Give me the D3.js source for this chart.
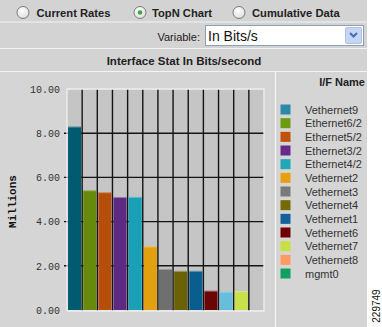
<!DOCTYPE html>
<html>
<head>
<meta charset="utf-8">
<script src="https://cdn.jsdelivr.net/npm/d3@7"></script>
<style>
  html, body { margin: 0; padding: 0; background: #ffffff; }
  svg { display: block; }
</style>
</head>
<body>
<svg id="chart" width="382" height="327"></svg>
<script>
// Interface names, in TopN order
const interfaces = ["Vethernet9", "Ethernet6/2", "Ethernet5/2", "Ethernet3/2", "Ethernet4/2",
  "Vethernet2", "Vethernet3", "Vethernet4", "Vethernet1", "Vethernet6",
  "Vethernet7", "Vethernet8", "mgmt0"];
// In Bits/s, in millions
const inBitsMillions = [8.30, 5.42, 5.33, 5.11, 5.12, 2.88, 1.86, 1.77, 1.77, 0.87, 0.83, 0.85, 0];
const yTicks = [0, 2, 4, 6, 8, 10];
const radioOptions = ["Current Rates", "TopN Chart", "Cumulative Data"];
const selectedRadio = "TopN Chart";
const variableValue = "In Bits/s";
const chartTitle = "Interface Stat In Bits/second";

// Fill colours for the bars and legend swatches
const barColors = ["#005a70", "#688a0c", "#b54e0a", "#5c2a80", "#17a0b6", "#e2a010",
  "#6f6f6f", "#6d6108", "#0a5d8f", "#6a0606", "#66bddc", "#c9e04a", "#12a060"];
const swatchColors = ["#2a8aa6", "#6e9a10", "#c0520a", "#6a2a8a", "#1fa8b8", "#e8a010",
  "#7a7a7a", "#786a02", "#14609a", "#700000", "#c8e040", "#ff9a60", "#10a060"];

const svg = d3.select("#chart");
const sans = "Arial, 'Liberation Sans', sans-serif";
const mono = "'Liberation Mono', 'Courier New', monospace";

// Panel background and separating bands
svg.append("rect").attr("x", 0).attr("y", 0).attr("width", 367).attr("height", 327).attr("fill", "#d3d3d3");
svg.append("rect").attr("x", 0).attr("y", 72).attr("width", 367).attr("height", 255).attr("fill", "#d5d5d5");
[[0, 22, 367, 1.2], [0, 48.5, 367, 1.2], [0, 71.5, 367, 1.2]].forEach(([x, y, w, s]) => {
  svg.append("line").attr("x1", x).attr("x2", x + w).attr("y1", y).attr("y2", y)
    .attr("stroke", "#f4f4f4").attr("stroke-width", s);
});
svg.append("line").attr("x1", 275.5).attr("x2", 275.5).attr("y1", 72).attr("y2", 327)
  .attr("stroke", "#f4f4f4").attr("stroke-width", 1.2);

// Radio buttons
const defs = svg.append("defs");
const rg = defs.append("radialGradient").attr("id", "radioFill").attr("cx", "40%").attr("cy", "35%").attr("r", "70%");
rg.append("stop").attr("offset", "0%").attr("stop-color", "#ffffff");
rg.append("stop").attr("offset", "100%").attr("stop-color", "#dcdcdc");
const radioX = [23, 140, 239];
const labelX = [36.5, 152, 252];
radioOptions.forEach((name, i) => {
  svg.append("circle").attr("cx", radioX[i]).attr("cy", 12.5).attr("r", 6)
    .attr("fill", "url(#radioFill)").attr("stroke", "#7b7b7b").attr("stroke-width", 1);
  if (name === selectedRadio) {
    svg.append("circle").attr("cx", radioX[i]).attr("cy", 12.5).attr("r", 2.3).attr("fill", "#3aa83a");
  }
  svg.append("text").attr("x", labelX[i]).attr("y", 16.5).text(name)
    .attr("font-family", sans).attr("font-weight", "bold").attr("font-size", 11.2).attr("fill", "#222");
});

// Variable selector
svg.append("text").attr("x", 200).attr("y", 40.5).attr("text-anchor", "end").text("Variable:")
  .attr("font-family", sans).attr("font-size", 11).attr("fill", "#222");
svg.append("rect").attr("x", 205.5).attr("y", 25.5).attr("width", 158).attr("height", 20)
  .attr("fill", "#ffffff").attr("stroke", "#8aa0b8");
svg.append("rect").attr("x", 345.5).attr("y", 27.5).attr("width", 16).attr("height", 16)
  .attr("fill", "#c6d6f2").attr("stroke", "#b0c4e4").attr("rx", 1.5);
svg.append("path").attr("d", "M350,33 L353.5,36.5 L357,33").attr("fill", "none")
  .attr("stroke", "#4a6cb0").attr("stroke-width", 2);
svg.append("text").attr("x", 208).attr("y", 41).text(variableValue)
  .attr("font-family", sans).attr("font-size", 14).attr("fill", "#111");

// Chart title
svg.append("text").attr("x", 184).attr("y", 65).attr("text-anchor", "middle").text(chartTitle)
  .attr("font-family", sans).attr("font-weight", "bold").attr("font-size", 11.5).attr("fill", "#222");

// Plot area
const plot = { left: 67, right: 264, top: 89, bottom: 310 };
const x = d3.scaleBand().domain(interfaces).range([plot.left, plot.right]).paddingInner(0.14).paddingOuter(0.07);
const y = d3.scaleLinear().domain([0, 10]).range([plot.bottom, plot.top]);

svg.append("rect").attr("x", plot.left).attr("y", plot.top)
  .attr("width", plot.right - plot.left).attr("height", plot.bottom - plot.top).attr("fill", "#c5c5c5");

// Grid: horizontal lines at ticks, vertical lines between columns
const g = svg.append("g");
g.selectAll("line.h").data(yTicks.filter(t => t > 0 && t < 10)).join("line")
  .attr("x1", plot.left - 3).attr("x2", plot.right).attr("y1", d => y(d)).attr("y2", d => y(d))
  .attr("stroke", "#141414").attr("stroke-width", 1.4);
const step = x.step();
g.selectAll("line.v").data(d3.range(1, interfaces.length)).join("line")
  .attr("x1", d => plot.left + d * step).attr("x2", d => plot.left + d * step)
  .attr("y1", plot.top).attr("y2", plot.bottom + 1)
  .attr("stroke", "#141414").attr("stroke-width", 1.4);

// Bars
const bars = svg.append("g");
bars.selectAll("rect").data(interfaces).join("rect")
  .attr("x", d => x(d)).attr("width", x.bandwidth())
  .attr("y", (d, i) => y(inBitsMillions[i]))
  .attr("height", (d, i) => y(0) - y(inBitsMillions[i]))
  .attr("fill", (d, i) => barColors[i]);
bars.selectAll("line").data(interfaces.filter((d, i) => inBitsMillions[i] > 0)).join("line")
  .attr("x1", d => x(d)).attr("x2", d => x(d) + x.bandwidth())
  .attr("y1", d => y(inBitsMillions[interfaces.indexOf(d)]) + 0.5)
  .attr("y2", d => y(inBitsMillions[interfaces.indexOf(d)]) + 0.5)
  .attr("stroke", "#ffffff").attr("stroke-opacity", 0.35).attr("stroke-width", 1);

// Plot frame
svg.append("path")
  .attr("d", `M${plot.left},${plot.bottom + 1} L${plot.left},${plot.top} L${plot.right},${plot.top} L${plot.right},${plot.bottom + 1} L${plot.left},${plot.bottom + 1}`)
  .attr("fill", "none").attr("stroke", "#eeeeee").attr("stroke-width", 1.3);

// Y axis labels
const yAxis = d3.axisLeft(y).tickValues(yTicks).tickFormat(d3.format(".2f")).tickSize(0).tickPadding(7);
const ya = svg.append("g").attr("transform", `translate(${plot.left},0)`).call(yAxis);
ya.select(".domain").remove();
ya.selectAll("text").attr("font-family", mono).attr("font-size", 10).attr("fill", "#333");

svg.append("text").attr("transform", "translate(16,201.5) rotate(-90)").attr("text-anchor", "middle")
  .text("Millions").attr("font-family", mono).attr("font-weight", "bold").attr("font-size", 11).attr("fill", "#111");

// Legend
svg.append("text").attr("x", 365).attr("y", 85.5).attr("text-anchor", "end").text("I/F Name")
  .attr("font-family", sans).attr("font-weight", "bold").attr("font-size", 11).attr("fill", "#222");
const legendY = d3.scalePoint().domain(interfaces).range([109.5, 273.5]);
const lg = svg.append("g").selectAll("g").data(interfaces).join("g")
  .attr("transform", d => `translate(0,${legendY(d)})`);
lg.append("rect").attr("x", 280.5).attr("y", -5).attr("width", 10).attr("height", 10)
  .attr("fill", (d, i) => swatchColors[i]);
lg.append("text").attr("x", 305).attr("y", 4).text(d => d)
  .attr("font-family", sans).attr("font-size", 11).attr("fill", "#333");

// Figure number
svg.append("text").attr("transform", "translate(380,306) rotate(-90)").attr("text-anchor", "middle")
  .text("229749").attr("font-family", sans).attr("font-size", 10).attr("fill", "#111");
</script>
</body>
</html>
